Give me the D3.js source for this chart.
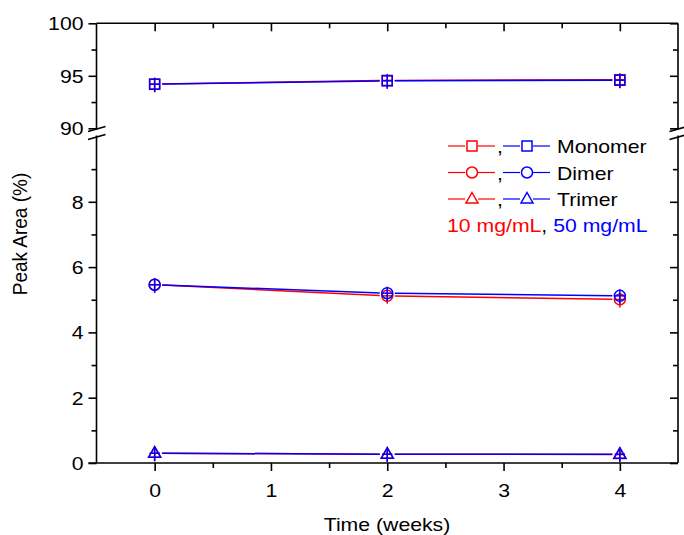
<!DOCTYPE html>
<html><head><meta charset="utf-8">
<script src="https://cdn.jsdelivr.net/npm/d3@7"></script>
<style>
body{margin:0;background:#fff}
svg{display:block}
text{font-family:"Liberation Sans",Arial,Helvetica,sans-serif;fill:#000}
</style>
</head><body>
<svg id="chart" width="684" height="535"></svg>
<script>
// Time points (weeks)
const weeks = [0, 2, 4];
// Peak area (%) per species, 10 mg/mL and 50 mg/mL
const monomer10 = [94.2, 94.56, 94.63];
const monomer50 = [94.2, 94.52, 94.58];
const dimer10 = [5.46, 5.12, 5.01];
const dimer50 = [5.46, 5.2, 5.12];
const trimer10 = [0.3, 0.27, 0.26];
const trimer50 = [0.3, 0.27, 0.27];

// Axis ticks
const xMajor = [0, 1, 2, 3, 4];
const xMinor = [0.5, 1.5, 2.5, 3.5];
const yLowMajor = [0, 2, 4, 6, 8];
const yLowMinor = [1, 3, 5, 7, 9];
const yHighMajor = [90, 95, 100];
const yHighMinor = [92.5, 97.5];

const RED = "#ff0000", BLUE = "#0000ff";
const FS = 18, SX = 1.18;   // font size and horizontal glyph stretch

const svg = d3.select("#chart");
const L = 96.5, R = 678, T = 23.3, B = 463;

const x = d3.scaleLinear().domain([-0.5, 4.5]).range([L, R]);
const yHigh = d3.scaleLinear().domain([90, 100]).range([128.3, T]);
const yLow = d3.scaleLinear().domain([0, 10]).range([B, 136.5]);
const y = v => v >= 50 ? yHigh(v) : yLow(v);

// stretch tick labels horizontally around their anchor
function styleLabels(g, dx, dy, anchor) {
  g.selectAll(".tick text")
    .attr("x", 0).attr("y", 0).attr("dy", null)
    .attr("text-anchor", anchor)
    .style("font-size", FS + "px")
    .attr("transform", `translate(${dx},${dy}) scale(${SX},1)`);
  g.select(".domain").remove();
  g.selectAll(".tick line").attr("stroke", "#000").attr("stroke-width", 1.6);
}

// left axis (outward ticks, labelled) and right axis (inward ticks)
[[yLow, yLowMajor, yLowMinor], [yHigh, yHighMajor, yHighMinor]].forEach(([sc, maj, min]) => {
  const gMaj = svg.append("g").attr("transform", `translate(${L},0)`)
    .call(d3.axisLeft(sc).tickValues(maj).tickSize(8).tickFormat(d3.format("d")));
  styleLabels(gMaj, -13, 6.5, "end");
  const gMin = svg.append("g").attr("transform", `translate(${L},0)`)
    .call(d3.axisLeft(sc).tickValues(min).tickSize(5).tickFormat(""));
  styleLabels(gMin, 0, 0, "end");
  const rMaj = svg.append("g").attr("transform", `translate(${R},0)`)
    .call(d3.axisLeft(sc).tickValues(maj).tickSize(8).tickFormat(""));
  styleLabels(rMaj, 0, 0, "end");
  const rMin = svg.append("g").attr("transform", `translate(${R},0)`)
    .call(d3.axisLeft(sc).tickValues(min).tickSize(5).tickFormat(""));
  styleLabels(rMin, 0, 0, "end");
});

// bottom axis (outward ticks, labelled)
const bMaj = svg.append("g").attr("transform", `translate(0,${B})`)
  .call(d3.axisBottom(x).tickValues(xMajor).tickSize(8).tickFormat(d3.format("d")));
styleLabels(bMaj, 0, 34, "middle");
const bMin = svg.append("g").attr("transform", `translate(0,${B})`)
  .call(d3.axisBottom(x).tickValues(xMinor).tickSize(5).tickFormat(""));
styleLabels(bMin, 0, 0, "middle");
// top axis (inward ticks)
const tMaj = svg.append("g").attr("transform", `translate(0,${T})`)
  .call(d3.axisBottom(x).tickValues(xMajor).tickSize(8).tickFormat(""));
styleLabels(tMaj, 0, 0, "middle");
const tMin = svg.append("g").attr("transform", `translate(0,${T})`)
  .call(d3.axisBottom(x).tickValues(xMinor).tickSize(5).tickFormat(""));
styleLabels(tMin, 0, 0, "middle");

// frame lines with a break between the two y segments
const frame = svg.append("g").attr("stroke", "#000").attr("stroke-width", 1.6).attr("fill", "none");
const brkTop = 129.5, brkBot = 135.5;
frame.append("line").attr("x1", L - 8).attr("x2", R).attr("y1", B).attr("y2", B);
frame.append("line").attr("x1", L).attr("x2", R).attr("y1", T).attr("y2", T);
[L, R].forEach(xx => {
  frame.append("line").attr("x1", xx).attr("x2", xx).attr("y1", T).attr("y2", brkTop);
  frame.append("line").attr("x1", xx).attr("x2", xx).attr("y1", brkBot).attr("y2", B);
  frame.append("line").attr("x1", xx - 8.5).attr("x2", xx + 9).attr("y1", brkTop + 2).attr("y2", brkTop - 3);
  frame.append("line").attr("x1", xx - 8.5).attr("x2", xx + 9).attr("y1", brkBot + 4).attr("y2", brkBot - 1);
});

// marker shapes
function marker(g, shape, cx, cy, color, cross) {
  const m = g.append("g").attr("stroke", color).attr("stroke-width", 1.5).attr("fill", "none");
  if (shape === "square") {
    m.append("rect").attr("x", cx - 5).attr("y", cy - 5).attr("width", 10).attr("height", 10);
  } else if (shape === "circle") {
    m.append("circle").attr("cx", cx).attr("cy", cy).attr("r", 5.5);
  } else {
    m.append("path").attr("d", `M${cx},${cy - 6.5}L${cx + 6},${cy + 4}L${cx - 6},${cy + 4}Z`);
  }
  if (cross) {
    m.append("line").attr("x1", cx).attr("x2", cx).attr("y1", cy - 6.5).attr("y2", cy + 8);
    m.append("line").attr("x1", cx - 5).attr("x2", cx + 5).attr("y1", cy).attr("y2", cy);
  }
}

const series = [
  {vals: monomer10, color: RED, shape: "square"},
  {vals: dimer10, color: RED, shape: "circle"},
  {vals: trimer10, color: RED, shape: "triangle"},
  {vals: monomer50, color: BLUE, shape: "square"},
  {vals: dimer50, color: BLUE, shape: "circle"},
  {vals: trimer50, color: BLUE, shape: "triangle"}
];

const plot = svg.append("g");
series.forEach(s => {
  const pts = s.vals.map((v, i) => [x(weeks[i]), y(v)]);
  const g = plot.append("g");
  const gap = 7.5;
  for (let i = 0; i < pts.length - 1; i++) {
    const [x1, y1] = pts[i], [x2, y2] = pts[i + 1];
    const len = Math.hypot(x2 - x1, y2 - y1);
    const ux = (x2 - x1) / len, uy = (y2 - y1) / len;
    g.append("line")
      .attr("x1", x1 + ux * gap).attr("y1", y1 + uy * gap)
      .attr("x2", x2 - ux * gap).attr("y2", y2 - uy * gap)
      .attr("stroke", s.color).attr("stroke-width", 1.5);
  }
  pts.forEach(([px, py]) => marker(g, s.shape, px, py, s.color, true));
});

// legend
const legend = svg.append("g");
const rows = [["square", "Monomer", 146], ["circle", "Dimer", 172.5], ["triangle", "Trimer", 199]];
rows.forEach(([shape, label, cy]) => {
  [[448, RED], [503, BLUE]].forEach(([x0, c]) => {
    legend.append("line").attr("x1", x0).attr("x2", x0 + 17).attr("y1", cy).attr("y2", cy)
      .attr("stroke", c).attr("stroke-width", 1.2);
    legend.append("line").attr("x1", x0 + 30).attr("x2", x0 + 47).attr("y1", cy).attr("y2", cy)
      .attr("stroke", c).attr("stroke-width", 1.2);
    marker(legend, shape, x0 + 24, cy, c, false);
  });
  legend.append("text").attr("transform", `translate(497,${cy + 7}) scale(${SX},1)`)
    .style("font-size", FS + "px").text(",");
  legend.append("text").attr("transform", `translate(557,${cy + 7}) scale(${SX},1)`)
    .style("font-size", FS + "px").text(label);
});
const conc = legend.append("text").attr("transform", `translate(447,232) scale(${SX},1)`)
  .style("font-size", FS + "px");
conc.append("tspan").style("fill", RED).text("10 mg/mL");
conc.append("tspan").text(", ");
conc.append("tspan").style("fill", BLUE).text("50 mg/mL");

// axis titles
svg.append("text").attr("transform", `translate(387,531) scale(${SX},1)`)
  .attr("text-anchor", "middle").style("font-size", FS + "px").text("Time (weeks)");
svg.append("text").attr("transform", `translate(27,234) scale(1.1,1) rotate(-90)`)
  .attr("text-anchor", "middle").style("font-size", "19px").text("Peak Area (%)");
</script>
</body></html>
